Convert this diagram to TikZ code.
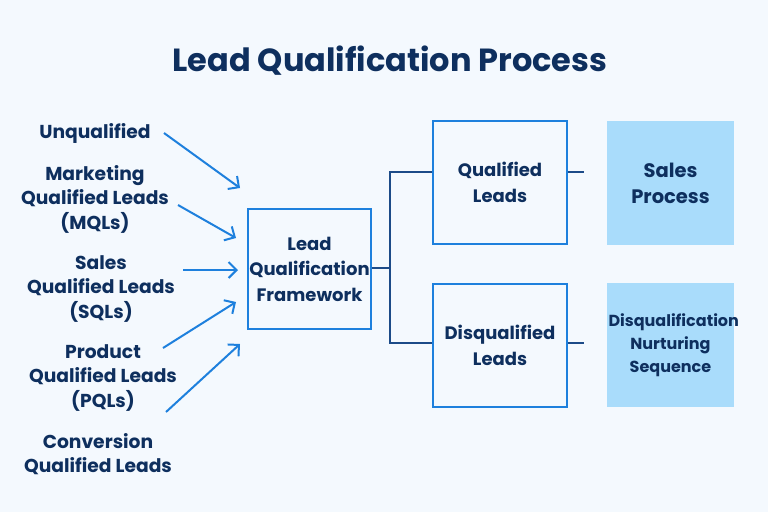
\documentclass[tikz,border=0pt]{standalone}
\usepackage{fontspec}
\setmainfont{Poppins}
\usetikzlibrary{arrows.meta}
\definecolor{bg}{HTML}{F4F9FE}
\definecolor{navy}{HTML}{0E2F5E}
\definecolor{brd}{HTML}{1E80DD}
\definecolor{conn}{HTML}{1C4B88}
\definecolor{lfill}{HTML}{A9DCFB}
\tikzset{
  lbl/.style={text=navy, align=center, font=\bfseries\fontsize{18.7}{24.5}\selectfont, inner sep=0pt},
  obox/.style={draw=brd, line width=2pt, fill=bg, text=navy, align=center, font=\bfseries\fontsize{18}{25.5}\selectfont, inner sep=0pt},
  fbox/.style={fill=lfill, text=navy, align=center, inner sep=0pt},
  inarrow/.style={draw=brd, line width=2pt, -{Straight Barb[length=8pt, width=16pt, line width=2pt]}},
  link/.style={draw=conn, line width=2.5pt},
}
\hbadness=10000 \hfuzz=100pt
\begin{document}
\begin{tikzpicture}[x=1pt,y=-1pt]
\fill[bg] (0,0) rectangle (768,512);
\useasboundingbox (0,0) rectangle (768,512);
\node[text=navy, font=\bfseries\fontsize{32}{38}\selectfont] (title) at (390,61) {Lead Qualification Process};
% left labels
\node[lbl] (u) at (95,133) {Unqualified};
\node[lbl] (m) at (95,199) {Marketing\\Qualified Leads\\(MQLs)};
\node[lbl] (s) at (101,289) {Sales\\Qualified Leads\\(SQLs)};
\node[lbl] (p) at (103,378) {Product\\Qualified Leads\\(PQLs)};
\node[lbl] (c) at (98,454) {Conversion\\Qualified Leads};
% boxes
\node[obox, minimum width=123pt, minimum height=120pt] (f) at (309.5,269) {Lead\\Qualification\\Framework};
\node[obox, minimum width=134pt, minimum height=123pt] (q) at (500,182.5) {Qualified\\Leads};
\node[obox, minimum width=134pt, minimum height=123pt] (d) at (500,345.5) {Disqualified\\Leads};
\node[fbox, minimum width=127pt, minimum height=124pt, font=\bfseries\fontsize{19.5}{26}\selectfont] (sp) at (670.5,183) {Sales\\Process};
\node[fbox, minimum width=127pt, minimum height=124pt, text width=124pt, font=\bfseries\fontsize{16}{23}\selectfont] (dn) at (670.5,345) {Disqualification\\Nurturing\\Sequence};
% arrow endpoints
\coordinate (a1s) at (164,133); \coordinate (a1e) at (240,188);
\coordinate (a2s) at (178,205); \coordinate (a2e) at (236,238);
\coordinate (a3s) at (183,270); \coordinate (a3e) at (238,270);
\coordinate (a4s) at (163,348); \coordinate (a4e) at (236,302);
\coordinate (a5s) at (166,412); \coordinate (a5e) at (240,344);
\draw[inarrow] (a1s) -- (a1e);
\draw[inarrow] (a2s) -- (a2e);
\draw[inarrow] (a3s) -- (a3e);
\draw[inarrow] (a4s) -- (a4e);
\draw[inarrow] (a5s) -- (a5e);
% tree connectors
\coordinate (jx) at (390,268);
\draw[link] (f.east |- jx) -- (jx);
\draw[link] (q.west |- 0,172) -- (jx |- 0,172) -- (jx |- 0,343) -- (d.west |- 0,343);
\coordinate (qs) at (584,172);
\coordinate (ds) at (584,343);
\draw[link] (q.east |- qs) -- (qs);
\draw[link] (d.east |- ds) -- (ds);
\end{tikzpicture}
\end{document}
